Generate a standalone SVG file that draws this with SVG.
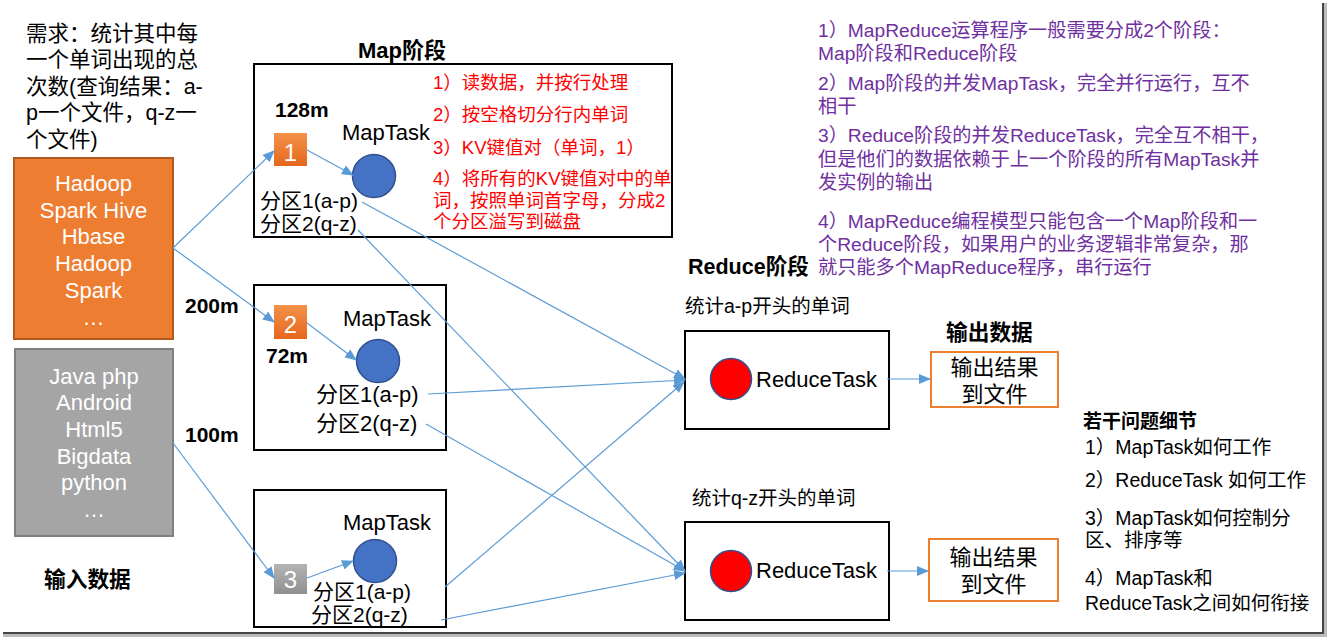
<svg xmlns="http://www.w3.org/2000/svg" width="1328" height="638" viewBox="0 0 1328 638">
<style>
text{font-family:"Liberation Sans","Noto Sans CJK SC",sans-serif;fill:#000}
.b{font-weight:bold}
.w{fill:#fff}
.r{fill:#FF0000}
.p{fill:#7030A0}
.m{text-anchor:middle}
.box{fill:#fff;stroke:#000;stroke-width:2}
.obox{fill:#fff;stroke:#ED7D31;stroke-width:2}
.blue{fill:#4472C4;stroke:#2F528F;stroke-width:1.5}
.red{fill:#FF0000;stroke:#2F528F;stroke-width:1.5}
.ca{stroke:#5B9BD5;stroke-width:1.2;fill:none;marker-end:url(#ah)}
</style>
<defs>
<marker id="ah" markerUnits="userSpaceOnUse" markerWidth="12" markerHeight="10" refX="11" refY="5" orient="auto">
<path d="M0,0 L12,5 L0,10 Z" fill="#5B9BD5"/>
</marker>
<linearGradient id="og" x1="0" y1="0" x2="0" y2="1">
<stop offset="0" stop-color="#F4914A"/>
<stop offset="1" stop-color="#E5671C"/>
</linearGradient>
<linearGradient id="gg" x1="0" y1="0" x2="0" y2="1">
<stop offset="0" stop-color="#B4B4B4"/>
<stop offset="1" stop-color="#8F8F8F"/>
</linearGradient>
</defs>
<rect width="1328" height="638" fill="#fff"/>
<!-- frame shadow -->
<rect x="1322" y="3" width="2" height="632" fill="#444"/>
<rect x="1324" y="3" width="3" height="632" fill="#bbb"/>
<rect x="3" y="632" width="1321" height="2" fill="#444"/>
<rect x="3" y="634" width="1324" height="3" fill="#bbb"/>

<g id="title">
<text x="26" y="41" font-size="21.5">需求：统计其中每</text>
<text x="26" y="67" font-size="21.5">一个单词出现的总</text>
<text x="26" y="94" font-size="21.5">次数(查询结果：a-</text>
<text x="26" y="120" font-size="21.5">p一个文件，q-z一</text>
<text x="26" y="147" font-size="21.5">个文件)</text>
</g>

<g id="input1">
<rect x="14" y="158" width="159" height="181" fill="#ED7D31" stroke="#B15A1E" stroke-width="2"/>
<text class="w m" x="93.5" y="191" font-size="22">Hadoop</text>
<text class="w m" x="93.5" y="218" font-size="22">Spark Hive</text>
<text class="w m" x="93.5" y="244" font-size="22">Hbase</text>
<text class="w m" x="93.5" y="271" font-size="22">Hadoop</text>
<text class="w m" x="93.5" y="298" font-size="22">Spark</text>
<text class="w m" x="93.5" y="325" font-size="22">…</text>
</g>
<g id="input2">
<rect x="15" y="349" width="158" height="187" fill="#A5A5A5" stroke="#7F7F7F" stroke-width="2"/>
<text class="w m" x="94" y="384" font-size="22">Java php</text>
<text class="w m" x="94" y="410" font-size="22">Android</text>
<text class="w m" x="94" y="437" font-size="22">Html5</text>
<text class="w m" x="94" y="464" font-size="22">Bigdata</text>
<text class="w m" x="94" y="490" font-size="22">python</text>
<text class="w m" x="94" y="517" font-size="22">…</text>
</g>
<g id="input-label">
<text class="b" x="44" y="587" font-size="21.7">输入数据</text>
</g>

<g id="split-labels">
<text class="b" x="185" y="313" font-size="21">200m</text>
<text class="b" x="185" y="442" font-size="21">100m</text>
</g>

<g id="map-title">
<text class="b" x="358" y="58" font-size="22">Map阶段</text>
</g>

<g id="map1">
<rect class="box" x="254" y="64" width="418" height="173"/>
<text class="b" x="275" y="117" font-size="21">128m</text>
<rect x="274" y="133" width="33" height="33" fill="url(#og)"/>
<text class="w m" x="290.5" y="161" font-size="24">1</text>
<text x="342" y="140" font-size="22">MapTask</text>
<circle class="blue" cx="374" cy="176" r="21.5"/>
<text x="260" y="208" font-size="21">分区1(a-p)</text>
<text x="260" y="231" font-size="21">分区2(q-z)</text>
<text class="r" x="433" y="89" font-size="18.5">1）读数据，并按行处理</text>
<text class="r" x="433" y="121" font-size="18.5">2）按空格切分行内单词</text>
<text class="r" x="433" y="154" font-size="18.5">3）KV键值对（单词，1）</text>
<text class="r" x="433" y="185" font-size="18.5">4）将所有的KV键值对中的单</text>
<text class="r" x="433" y="207" font-size="18.5">词，按照单词首字母，分成2</text>
<text class="r" x="433" y="228" font-size="18.5">个分区溢写到磁盘</text>
</g>

<g id="map2">
<rect class="box" x="254" y="285" width="192" height="165"/>
<rect x="274" y="305" width="33" height="34" fill="url(#og)"/>
<text class="w m" x="290.5" y="333" font-size="24">2</text>
<text class="b" x="266" y="363" font-size="21">72m</text>
<text x="343" y="326" font-size="22">MapTask</text>
<circle class="blue" cx="378" cy="361" r="21.5"/>
<text x="316" y="402" font-size="22">分区1(a-p)</text>
<text x="316" y="431" font-size="22">分区2(q-z)</text>
</g>

<g id="map3">
<rect class="box" x="254" y="490" width="192" height="137"/>
<rect x="274" y="564" width="33" height="30" fill="url(#gg)"/>
<text class="w m" x="290.5" y="588" font-size="24">3</text>
<text x="343" y="530" font-size="22">MapTask</text>
<circle class="blue" cx="375" cy="561" r="21.5"/>
<text x="313" y="599" font-size="21">分区1(a-p)</text>
<text x="311" y="622" font-size="21">分区2(q-z)</text>
</g>

<g id="reduce-title">
<text class="b" x="688" y="274" font-size="21.5">Reduce阶段</text>
</g>

<g id="reduce1">
<text x="685" y="313" font-size="19.5">统计a-p开头的单词</text>
<rect class="box" x="685" y="331" width="204" height="98"/>
<circle class="red" cx="731" cy="379" r="20.5"/>
<text x="756" y="387" font-size="22">ReduceTask</text>
</g>
<g id="reduce2">
<text x="692" y="505" font-size="19.5">统计q-z开头的单词</text>
<rect class="box" x="685" y="522" width="204" height="98"/>
<circle class="red" cx="731" cy="571" r="20.5"/>
<text x="756" y="578" font-size="22">ReduceTask</text>
</g>

<g id="output-title">
<text class="b" x="946" y="340" font-size="21.7">输出数据</text>
</g>
<g id="output1">
<rect class="obox" x="931" y="352" width="127" height="55"/>
<text class="m" x="994.5" y="375" font-size="22">输出结果</text>
<text class="m" x="994.5" y="402" font-size="22">到文件</text>
</g>
<g id="output2">
<rect class="obox" x="929" y="539" width="129" height="62"/>
<text class="m" x="993.5" y="565" font-size="22">输出结果</text>
<text class="m" x="993.5" y="592" font-size="22">到文件</text>
</g>

<g id="notes">
<text class="p" x="818" y="37" font-size="19.2">1）MapReduce运算程序一般需要分成2个阶段：</text>
<text class="p" x="818" y="60" font-size="19.2">Map阶段和Reduce阶段</text>
<text class="p" x="818" y="90" font-size="19.2">2）Map阶段的并发MapTask，完全并行运行，互不</text>
<text class="p" x="818" y="113" font-size="19.2">相干</text>
<text class="p" x="818" y="142" font-size="19.2">3）Reduce阶段的并发ReduceTask，完全互不相干，</text>
<text class="p" x="818" y="166" font-size="19.2">但是他们的数据依赖于上一个阶段的所有MapTask并</text>
<text class="p" x="818" y="189" font-size="19.2">发实例的输出</text>
<text class="p" x="818" y="228" font-size="19.2">4）MapReduce编程模型只能包含一个Map阶段和一</text>
<text class="p" x="818" y="251" font-size="19.2">个Reduce阶段，如果用户的业务逻辑非常复杂，那</text>
<text class="p" x="818" y="274" font-size="19.2">就只能多个MapReduce程序，串行运行</text>
</g>

<g id="questions">
<text class="b" x="1083" y="428" font-size="19">若干问题细节</text>
<text x="1085" y="454" font-size="19.5">1）MapTask如何工作</text>
<text x="1085" y="487" font-size="19.5">2）ReduceTask 如何工作</text>
<text x="1085" y="525" font-size="19.5">3）MapTask如何控制分</text>
<text x="1085" y="547" font-size="19.5">区、排序等</text>
<text x="1085" y="585" font-size="19.5">4）MapTask和</text>
<text x="1085" y="610" font-size="19.5">ReduceTask之间如何衔接</text>
</g>

<g id="connectors">
<line class="ca" x1="173" y1="248" x2="274" y2="151"/>
<line class="ca" x1="173" y1="248" x2="274" y2="322"/>
<line class="ca" x1="173" y1="443" x2="274" y2="578"/>
<line class="ca" x1="307" y1="150" x2="353" y2="175"/>
<line class="ca" x1="307" y1="323" x2="356" y2="360"/>
<line class="ca" x1="307" y1="578" x2="353" y2="561"/>
<line class="ca" x1="362" y1="202" x2="685" y2="379"/>
<line class="ca" x1="358" y1="230" x2="685" y2="571"/>
<line class="ca" x1="428" y1="394" x2="685" y2="380"/>
<line class="ca" x1="426" y1="424" x2="685" y2="571"/>
<line class="ca" x1="445" y1="587" x2="684" y2="382"/>
<line class="ca" x1="441" y1="620" x2="685" y2="573"/>
<line class="ca" x1="887" y1="379" x2="930" y2="379"/>
<line class="ca" x1="887" y1="571" x2="928" y2="571"/>
</g>
</svg>
